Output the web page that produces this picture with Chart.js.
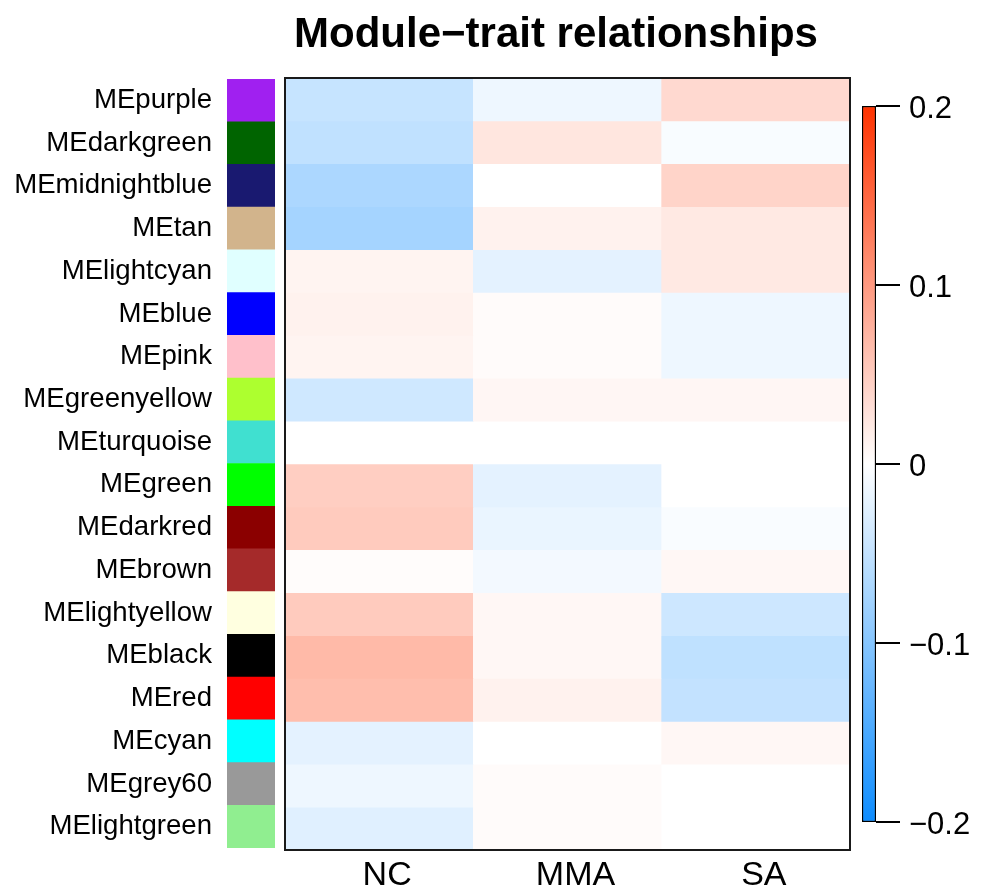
<!DOCTYPE html>
<html>
<head>
<meta charset="utf-8">
<title>Module−trait relationships</title>
<script src="https://cdn.jsdelivr.net/npm/chart.js@4.4.1/dist/chart.umd.min.js"></script>
<style>
  html, body { margin: 0; padding: 0; background: #ffffff; }
  #stage { position: relative; width: 984px; height: 890px; background: #ffffff; overflow: hidden; }
  #stage canvas { position: absolute; top: 0; }
</style>
</head>
<body>
<div id="stage">
  <canvas id="modules" width="280" height="890" style="left:0px"></canvas>
  <canvas id="heat" width="590" height="890" style="left:262px"></canvas>
  <canvas id="scale" width="132" height="890" style="left:852px"></canvas>
</div>
<script>
// Module eigengenes (rows, top to bottom) and their module colours
const modules = [
  'MEpurple', 'MEdarkgreen', 'MEmidnightblue', 'MEtan', 'MElightcyan', 'MEblue',
  'MEpink', 'MEgreenyellow', 'MEturquoise', 'MEgreen', 'MEdarkred', 'MEbrown',
  'MElightyellow', 'MEblack', 'MEred', 'MEcyan', 'MEgrey60', 'MElightgreen'
];
const moduleColors = [
  '#A020F0', '#006400', '#191970', '#D2B48C', '#E0FFFF', '#0000FF',
  '#FFC0CB', '#ADFF2F', '#40E0D0', '#00FF00', '#8B0000', '#A52A2A',
  '#FFFFE0', '#000000', '#FF0000', '#00FFFF', '#999999', '#90EE90'
];

// Traits (columns)
const traits = ['NC', 'MMA', 'SA'];

// Module–trait correlations, one array per trait, in module order
const ncCor = [
  -0.047, -0.052, -0.069, -0.074, 0.011, 0.013,
   0.011, -0.040, 0.000, 0.048, 0.051, 0.003,
   0.051, 0.068, 0.064, -0.022, -0.014, -0.026
];
const mmaCor = [
  -0.014, 0.025, 0.000, 0.013, -0.022, 0.004,
   0.004, 0.009, 0.000, -0.022, -0.017, -0.010,
   0.008, 0.008, 0.013, 0.000, 0.004, 0.004
];
const saCor = [
   0.037, -0.006, 0.042, 0.022, 0.022, -0.014,
  -0.014, 0.009, 0.000, 0.000, -0.005, 0.008,
  -0.041, -0.053, -0.050, 0.008, 0.000, 0.000
];

// Colour scale range and its tick values
const scaleMin = -0.2;
const scaleMax = 0.2;
const scaleTicks = [-0.2, -0.1, 0, 0.1, 0.2];

const FONT = "'Liberation Sans', Arial, Helvetica, sans-serif";
const BLUE_END = [13, 140, 255];
const RED_END = [255, 51, 0];

// Blue–white–red colour map over [scaleMin, scaleMax]
function corColor(v) {
  const t = Math.max(-1, Math.min(1, v / scaleMax));
  const end = t < 0 ? BLUE_END : RED_END;
  const a = Math.abs(t);
  const c = end.map(e => Math.round(255 + (e - 255) * a));
  return `rgb(${c[0]},${c[1]},${c[2]})`;
}

function formatTick(v) {
  if (Math.abs(v) < 1e-9) return '0';
  return (v < 0 ? '\u2212' : '') + Math.abs(v).toFixed(1);
}

Chart.defaults.font.family = FONT;
Chart.defaults.color = '#000000';
Chart.defaults.animation = false;

const noLegend = { legend: { display: false }, tooltip: { enabled: false } };

// Module colour swatches with row labels
new Chart(document.getElementById('modules'), {
  type: 'bar',
  data: {
    labels: modules,
    datasets: [{
      data: modules.map(() => 1),
      backgroundColor: moduleColors,
      borderWidth: 0,
      barPercentage: 1,
      categoryPercentage: 1
    }]
  },
  options: {
    indexAxis: 'y',
    responsive: false,
    layout: { padding: { top: 79, bottom: 42, right: 5, left: 0 } },
    plugins: noLegend,
    scales: {
      x: { display: false, min: 0, max: 1 },
      y: {
        position: 'left',
        grid: { display: false, drawTicks: false },
        border: { display: false },
        ticks: { font: { size: 27.6 }, color: '#000000', padding: 15, autoSkip: false },
        afterFit(scale) { scale.width = 227; }
      }
    }
  }
});

// Outline around the heatmap plotting region
const frame = {
  id: 'frame',
  afterDatasetsDraw(chart) {
    const { ctx, chartArea: a } = chart;
    ctx.save();
    ctx.strokeStyle = '#1a1a1a';
    ctx.lineWidth = 2;
    ctx.strokeRect(a.left, a.top, a.right - a.left, a.bottom - a.top);
    ctx.restore();
  }
};

// Heatmap: one floating-bar dataset per module row
const traitValues = [ncCor, mmaCor, saCor];
new Chart(document.getElementById('heat'), {
  type: 'bar',
  data: {
    labels: traits,
    datasets: modules.map((m, i) => ({
      label: m,
      data: traits.map(() => [i, i + 1]),
      backgroundColor: traitValues.map(col => corColor(col[i])),
      borderWidth: 0,
      borderSkipped: false,
      barPercentage: 1,
      categoryPercentage: 1,
      grouped: false
    }))
  },
  options: {
    responsive: false,
    layout: { padding: { left: 0, right: 2, top: 0, bottom: 0 } },
    plugins: {
      ...noLegend,
      title: {
        display: true,
        text: 'Module\u2212trait relationships',
        color: '#000000',
        font: { size: 42, weight: 'bold', family: FONT, lineHeight: 1.2 },
        padding: { top: 10, bottom: 17.6 }
      }
    },
    scales: {
      x: {
        position: 'bottom',
        grid: { display: false, drawTicks: false },
        border: { display: false },
        ticks: { font: { size: 34 }, color: '#000000', padding: 5, labelOffset: 8 },
        afterFit(scale) { scale.height = 40; }
      },
      y: {
        display: true,
        min: 0,
        max: modules.length,
        reverse: true,
        grid: { display: false, drawTicks: false },
        border: { display: false },
        ticks: { display: false },
        afterFit(scale) { scale.width = 23; }
      }
    }
  },
  plugins: [frame]
});

// Colour key
new Chart(document.getElementById('scale'), {
  type: 'bar',
  data: {
    labels: [''],
    datasets: [{
      data: [[scaleMin, scaleMax]],
      backgroundColor(ctx) {
        const chart = ctx.chart;
        const a = chart.chartArea;
        if (!a) return null;
        const ys = chart.scales.y;
        const g = chart.ctx.createLinearGradient(0, ys.getPixelForValue(scaleMin), 0, ys.getPixelForValue(scaleMax));
        const steps = 40;
        for (let k = 0; k <= steps; k++) {
          const v = scaleMin + (scaleMax - scaleMin) * k / steps;
          g.addColorStop(k / steps, corColor(v));
        }
        return g;
      },
      borderColor: '#000000',
      borderWidth: 1.5,
      borderSkipped: false,
      barPercentage: 1,
      categoryPercentage: 1
    }]
  },
  options: {
    responsive: false,
    layout: { padding: { left: 10, top: 106, bottom: 68, right: 0 } },
    plugins: noLegend,
    scales: {
      x: { display: false },
      y: {
        position: 'right',
        min: scaleMin,
        max: scaleMax,
        afterBuildTicks(scale) { scale.ticks = scaleTicks.map(v => ({ value: v })); },
        grid: { drawOnChartArea: false, drawTicks: true, tickLength: 24, color: '#000000', lineWidth: 2 },
        border: { display: false },
        ticks: { font: { size: 31 }, color: '#000000', padding: 9, labelOffset: 3, callback: v => formatTick(v) },
        afterFit(scale) { scale.width = 108; }
      }
    }
  }
});
</script>
</body>
</html>
